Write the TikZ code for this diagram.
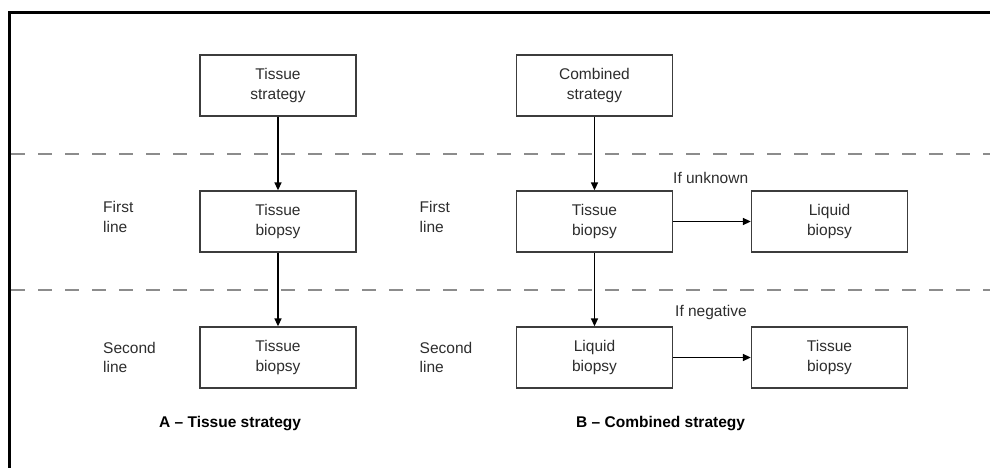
\documentclass[tikz,border=0pt]{standalone}
\usepackage{fontspec}
\setmainfont{Liberation Sans}
\usetikzlibrary{arrows.meta}
\definecolor{dashgray}{RGB}{140,140,140}
\definecolor{boxgray}{RGB}{60,60,60}
\definecolor{txtgray}{RGB}{45,45,45}
\tikzset{
  stepbox/.style={draw=boxgray, line width=1.3pt, minimum width=156pt, minimum height=61pt, inner sep=0pt, align=center, text=txtgray, font=\fontsize{15.5}{19.3}\selectfont},
  lbl/.style={anchor=west, align=left, inner sep=0pt, text=txtgray, font=\fontsize{15.5}{19.3}\selectfont},
  ttl/.style={anchor=west, inner sep=0pt, text=black, font=\bfseries\fontsize{15.5}{19}\selectfont},
  arr/.style={line width=1.5pt, -{Triangle[length=8pt,width=7pt]}},
  sep/.style={dashgray, line width=2.8pt, dash pattern=on 14pt off 13pt}
}
\begin{document}
\begin{tikzpicture}[x=1pt,y=-1pt]
\useasboundingbox (0,0) rectangle (990,468);
% frame
\draw[line width=2.5pt] (9.5,470) -- (9.5,12.5) -- (992,12.5);
% separators
\draw[sep] (11,154) -- (990,154);
\draw[sep] (11,290) -- (990,290);
% boxes A
\node[stepbox] (a1) at (278,85.5) {Tissue\\strategy};
\node[stepbox] (a2) at (278,221.5) {Tissue\\biopsy};
\node[stepbox] (a3) at (278,357.5) {Tissue\\biopsy};
% boxes B
\node[stepbox] (b1) at (594.5,85.5) {Combined\\strategy};
\node[stepbox] (b2) at (594.5,221.5) {Tissue\\biopsy};
\node[stepbox] (b3) at (594.5,357.5) {Liquid\\biopsy};
\node[stepbox] (b4) at (829.5,221.5) {Liquid\\biopsy};
\node[stepbox] (b5) at (829.5,357.5) {Tissue\\biopsy};
% arrows
\draw[arr] (a1) -- (a2);
\draw[arr] (a2) -- (a3);
\draw[arr] (b1) -- (b2);
\draw[arr] (b2) -- (b3);
\draw[arr] (b2) -- (b4);
\draw[arr] (b3) -- (b5);
% labels
\node[lbl] (fl1) at (103,217) {First\\line};
\node[lbl] (sl1) at (103,357.5) {Second\\line};
\node[lbl] (fl2) at (419.5,217) {First\\line};
\node[lbl] (sl2) at (419.5,357.5) {Second\\line};
\node[lbl] (iu) at (673,177.5) {If unknown};
\node[lbl] (ineg) at (675,312) {If negative};
\node[ttl] (ta) at (159,424) {A – Tissue strategy};
\node[ttl] (tb) at (576,423.5) {B – Combined strategy};
\end{tikzpicture}
\end{document}
